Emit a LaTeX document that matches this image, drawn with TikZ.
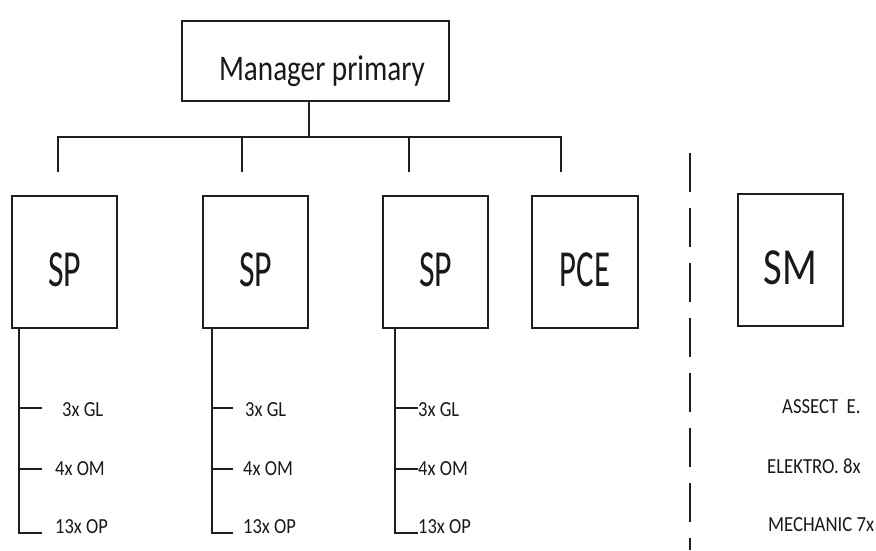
\documentclass[tikz,border=0pt]{standalone}
\usepackage{fontspec}
\setmainfont{Carlito}
\newcommand\hsq[2]{\scalebox{#1}[1]{#2}}
\begin{document}
\begin{tikzpicture}[x=1pt,y=-1pt,
  ink/.style={draw=black!88, line width=1.6pt},
  unit/.style={ink, inner sep=0pt, minimum width=105pt, minimum height=132pt,
    text height=49pt, text depth=0pt, font=\fontsize{52}{52}\selectfont, text=black!90},
  head/.style={ink, inner sep=0pt, minimum width=267pt, minimum height=80pt,
    text height=38pt, text depth=0pt, font=\fontsize{36}{36}\selectfont, text=black!90},
  lbl/.style={inner sep=0pt, anchor=west, text height=14pt, text depth=0pt,
    font=\fontsize{21.5}{21.5}\selectfont, text=black!90},
  wire/.style={ink},
  sep/.style={ink, dash pattern=on 39pt off 16pt}]
\useasboundingbox (0,0) rectangle (876,550);
\fill[white] (0,0) rectangle (876,550);

% top manager
\node[head] (mgr) at (315.5,61) {\hspace*{13pt}\hsq{0.81}{Manager primary}};

% unit boxes
\node[unit] (sp1) at (64.5,262) {\hsq{0.65}{SP}};
\node[unit] (sp2) at (255.5,262) {\hsq{0.65}{SP}};
\node[unit] (sp3) at (435.5,262) {\hsq{0.65}{SP}};
\node[unit, minimum width=106pt] (pce) at (585,262) {\hsq{0.63}{PCE}};
\node[unit] (sm) at (790.5,260) {\hsq{0.78}{SM}};

% distribution bus below the manager
\coordinate (bus) at (309,137);
\coordinate (d1) at (58,137);  \coordinate (e1) at (58,172);
\coordinate (d2) at (242,137); \coordinate (e2) at (242,172);
\coordinate (d3) at (409,137); \coordinate (e3) at (409,172);
\coordinate (d4) at (561,137); \coordinate (e4) at (561,172);
\draw[wire] (mgr.south -| bus) -- (bus);
\draw[wire] (e1) -- (d1) -- (d4) -- (e4);
\draw[wire] (d2) -- (e2);
\draw[wire] (d3) -- (e3);

% staff lists under each SP
\foreach \b/\sx/\tx/\ax/\bx in {sp1/19/42/62/55, sp2/212/233/245/243, sp3/395/418/418/418}{
  \coordinate (\b-t1) at (\tx,408);
  \coordinate (\b-t2) at (\tx,469);
  \coordinate (\b-t3) at (\tx,533);
  \draw[wire] (\b.south -| \sx,0) -- (\sx,533) -- (\b-t3);
  \draw[wire] (\sx,408) -- (\b-t1);
  \draw[wire] (\sx,469) -- (\b-t2);
  \node[lbl] (\b-gl) at (\ax,409) {\hsq{0.86}{3x GL}};
  \node[lbl] (\b-om) at (\bx,468) {\hsq{0.86}{4x OM}};
  \node[lbl] (\b-op) at (\bx,526) {\hsq{0.86}{13x OP}};
}

% separator
\coordinate (dtop) at (690,153);
\coordinate (dbot) at (690,550);
\draw[sep] (dtop) -- (dbot);

% SM staff
\node[lbl] (sm-a) at (782,406) {\hsq{0.87}{ASSECT~~E.}};
\node[lbl] (sm-e) at (767,466) {\hsq{0.87}{ELEKTRO. 8x}};
\node[lbl] (sm-m) at (768,524) {\hsq{0.87}{MECHANIC 7x}};
\end{tikzpicture}
\end{document}
